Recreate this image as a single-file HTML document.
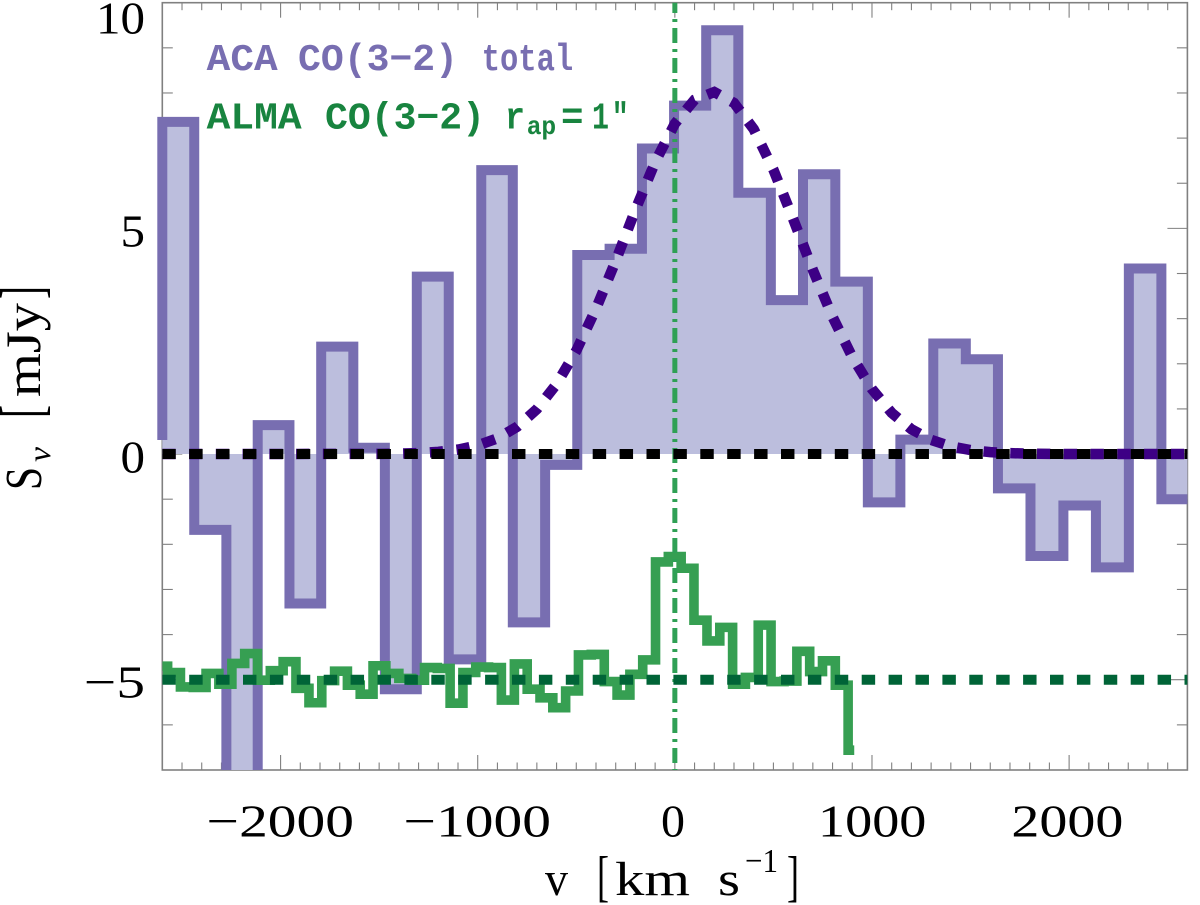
<!DOCTYPE html>
<html lang="en">
<head>
<meta charset="utf-8">
<title>CO(3-2) spectrum</title>
<style>
  html, body { margin: 0; padding: 0; background: #fff; }
  svg { display: block; }
  text { font-family: "Liberation Serif", serif; fill: #000; }
  .leg { font-family: "Liberation Mono", monospace; font-weight: bold; }
</style>
</head>
<body>
<svg id="chart" xmlns="http://www.w3.org/2000/svg" width="1200" height="905" viewBox="0 0 1200 905">
  <defs>
    <clipPath id="plot-clip"><rect x="150" y="2.7" width="1037.4" height="767.3"></rect></clipPath>
    <clipPath id="axes-clip"><rect x="162.3" y="2.7" width="1025.1" height="767.3"></rect></clipPath>
  </defs>
  <g id="axes-layer"></g>
  <g id="marks-layer"></g>

  <g font-size="46">
    <text x="96" y="33.3" textLength="49" lengthAdjust="spacingAndGlyphs">10</text>
    <text x="120.5" y="246.7" textLength="24.5" lengthAdjust="spacingAndGlyphs">5</text>
    <text x="120.5" y="472.7" textLength="24.5" lengthAdjust="spacingAndGlyphs">0</text>
    <text x="84" y="697.7" textLength="61" lengthAdjust="spacingAndGlyphs">−5</text>
  </g>
  <g font-size="46">
    <text x="206.7" y="836.7" textLength="147.3" lengthAdjust="spacingAndGlyphs">−2000</text>
    <text x="403.7" y="836.7" textLength="147.3" lengthAdjust="spacingAndGlyphs">−1000</text>
    <text x="661" y="836.7" textLength="24" lengthAdjust="spacingAndGlyphs">0</text>
    <text x="818" y="836.7" textLength="108.4" lengthAdjust="spacingAndGlyphs">1000</text>
    <text x="1011.4" y="836.7" textLength="112" lengthAdjust="spacingAndGlyphs">2000</text>
  </g>

  <g font-size="48">
    <text x="545" y="895" textLength="23" lengthAdjust="spacingAndGlyphs">v</text>
    <text x="597" y="895" font-size="56" textLength="12" lengthAdjust="spacingAndGlyphs">[</text>
    <text x="615" y="895" textLength="75" lengthAdjust="spacingAndGlyphs">km</text>
    <text x="718" y="895" textLength="22" lengthAdjust="spacingAndGlyphs">s</text>
    <text x="745" y="872" font-size="34" textLength="33" lengthAdjust="spacingAndGlyphs">−1</text>
    <text x="787" y="895" font-size="56" textLength="12" lengthAdjust="spacingAndGlyphs">]</text>
  </g>

  <g font-size="50">
    <text transform="translate(41 490) rotate(-90)" font-size="52" textLength="23" lengthAdjust="spacingAndGlyphs">S</text>
    <text transform="translate(50 462) rotate(-90)" font-size="32" font-style="italic" textLength="15" lengthAdjust="spacingAndGlyphs">ν</text>
    <text transform="translate(42 418) rotate(-90)" font-size="60" textLength="13" lengthAdjust="spacingAndGlyphs">[</text>
    <text transform="translate(40 397) rotate(-90)" textLength="94" lengthAdjust="spacingAndGlyphs">mJy</text>
    <text transform="translate(42 299) rotate(-90)" font-size="60" textLength="13" lengthAdjust="spacingAndGlyphs">]</text>
  </g>

  <g style="fill:#786EB1">
    <text class="leg" style="fill:#786EB1" font-size="38" x="206.7" y="70" textLength="71" lengthAdjust="spacingAndGlyphs">ACA</text>
    <text class="leg" style="fill:#786EB1" font-size="38" x="298" y="70" textLength="160" lengthAdjust="spacingAndGlyphs">CO(3−2)</text>
    <text class="leg" style="fill:#786EB1" font-size="38" x="481.7" y="70" textLength="91.5" lengthAdjust="spacingAndGlyphs">total</text>
  </g>
  <g>
    <text class="leg" style="fill:#18843F" font-size="38" x="206.7" y="128.3" textLength="95" lengthAdjust="spacingAndGlyphs">ALMA</text>
    <text class="leg" style="fill:#18843F" font-size="38" x="325" y="128.3" textLength="160" lengthAdjust="spacingAndGlyphs">CO(3−2)</text>
    <text class="leg" style="fill:#18843F" font-size="38" x="505" y="128.3" textLength="20" lengthAdjust="spacingAndGlyphs">r</text>
    <text class="leg" style="fill:#18843F" font-size="26" x="526.7" y="134" textLength="29.5" lengthAdjust="spacingAndGlyphs">ap</text>
    <text class="leg" style="fill:#18843F" font-size="38" x="561" y="128.3" textLength="22.5" lengthAdjust="spacingAndGlyphs">=</text>
    <text class="leg" style="fill:#18843F" font-size="38" x="592" y="128.3" textLength="17" lengthAdjust="spacingAndGlyphs">1</text>
    <text class="leg" style="fill:#18843F" font-size="38" x="611.7" y="128.3" textLength="17" lengthAdjust="spacingAndGlyphs">″</text>
  </g>
</svg>
<script>
// ---- ACA histogram: bin edges (km/s) and flux per bin (mJy)
const acaEdges = [-2600,-2438,-2275,-2116,-1955,-1794,-1631,-1471,-1309,-1147,-982,-822,-658,-495,-331,-167,-4,159,322,487,650,814,979,1144,1311,1476,1639,1804,1971,2136,2303,2468,2640];
const acaFlux = [7.36,-1.68,-8.5,0.64,-3.31,2.38,0.14,-5.21,3.93,-4.55,6.29,-3.73,-0.24,4.41,4.55,6.77,7.72,9.39,5.79,3.41,6.2,3.82,-1.07,0.32,2.45,2.1,-0.76,-2.26,-1.14,-2.51,4.11,-1.0];
const acaStartFlux = 0.31;

// ---- ALMA histogram: bin edges (km/s) and flux per bin, already offset by -5 mJy as plotted
const almaEdges = [-2600,-2573,-2508,-2443,-2378,-2313,-2247,-2182,-2117,-2052,-1987,-1922,-1856,-1791,-1726,-1661,-1596,-1531,-1466,-1400,-1335,-1270,-1205,-1140,-1075,-1010,-945,-880,-814,-749,-684,-619,-554,-489,-424,-358,-293,-228,-163,-98,-33,32,97,163,228,293,358,423,488,554,619,684,749,814,879,910];
const almaFlux = [-4.70,-4.84,-5.16,-5.17,-4.86,-5.10,-4.64,-4.42,-5.01,-4.80,-4.60,-5.19,-5.51,-5.02,-4.81,-5.12,-5.32,-4.69,-4.86,-4.97,-5.01,-4.73,-4.75,-5.52,-4.84,-4.72,-4.73,-5.45,-4.65,-5.21,-5.40,-5.62,-5.25,-4.45,-4.44,-5.04,-5.34,-4.88,-4.56,-2.39,-2.27,-2.53,-3.68,-4.14,-3.84,-5.10,-4.95,-3.79,-5.04,-5.03,-4.37,-4.82,-4.58,-5.12,-6.56];

// ---- Fitted line profile
const fitVelocity = [-2600,-1500,-1400,-1300,-1200,-1100,-1000,-900,-800,-700,-600,-500,-400,-300,-200,-100,0,100,200,300,400,500,600,700,800,900,1000,1100,1200,1300,1400,1500,1600,1700,1800,1900,2000,2600];
const fitFlux = [0,0.004,0.01,0.023,0.049,0.099,0.191,0.349,0.604,0.994,1.55,2.29,3.22,4.28,5.41,6.47,7.32,7.85,8.02,7.78,7.2,6.3,5.21,4.08,3.04,2.15,1.44,0.912,0.55,0.314,0.17,0.088,0.043,0.02,0.009,0.004,0.001,0];

// ---- Axis configuration
const xDomain = [-2600, 2600];
const yDomain = [-7, 10];
const xMajorTicks = [-2000, -1000, 0, 1000, 2000];
const xMinorTicks = [-2500,-2400,-2300,-2200,-2100,-1900,-1800,-1700,-1600,-1500,-1400,-1300,-1200,-1100,-900,-800,-700,-600,-500,-400,-300,-200,-100,100,200,300,400,500,600,700,800,900,1100,1200,1300,1400,1500,1600,1700,1800,1900,2100,2200,2300,2400,2500];
const yMajorTicks = [-5, 0, 5, 10];
const yMinorTicks = [-6,-4,-3,-2,-1,1,2,3,4,6,7,8,9];
const zeroLevel = 0;
const almaBaseline = -5;
const systemicVelocity = 0;

const LEFT = 162.3, RIGHT = 1187.4, TOP = 2.7, BOTTOM = 770;
function xScale(v) { return LEFT + (v - xDomain[0]) / (xDomain[1] - xDomain[0]) * (RIGHT - LEFT); }
function yScale(s) { return BOTTOM - (s - yDomain[0]) / (yDomain[1] - yDomain[0]) * (BOTTOM - TOP); }

const NS = 'http://www.w3.org/2000/svg';
const axesLayer = document.getElementById('axes-layer');
const marksLayer = document.getElementById('marks-layer');

function make(tag, parent, attrs) {
  const el = document.createElementNS(NS, tag);
  for (const k in attrs) el.setAttribute(k, attrs[k]);
  parent.appendChild(el);
  return el;
}

// frame
const frame = make('rect', axesLayer, { x: LEFT, y: TOP, width: RIGHT - LEFT, height: BOTTOM - TOP, fill: 'none', stroke: '#808080', 'stroke-width': 1.6 });



function xTick(v, len) {
  const x = xScale(v);
  const top = make('line', axesLayer, { x1: x, x2: x, y1: TOP, y2: TOP + len, stroke: '#808080', 'stroke-width': 1.1 });
  
  
  const bottom = make('line', axesLayer, { x1: x, x2: x, y1: BOTTOM, y2: BOTTOM - len, stroke: '#808080', 'stroke-width': 1.1 });
  
  
}
function yTick(s, len) {
  const y = yScale(s);
  const left = make('line', axesLayer, { x1: LEFT, x2: LEFT + len, y1: y, y2: y, stroke: '#808080', 'stroke-width': 1.1 });
  
  
  const right = make('line', axesLayer, { x1: RIGHT, x2: RIGHT - len, y1: y, y2: y, stroke: '#808080', 'stroke-width': 1.1 });
  
  
}
xMajorTicks.forEach(function (v) { xTick(v, 15); });
xMinorTicks.forEach(function (v) { xTick(v, 7.5); });
yMajorTicks.forEach(function (s) { yTick(s, 20); });
yMinorTicks.forEach(function (s) { yTick(s, 10.5); });

function stepPoints(edges, flux, startFlux) {
  const pts = [];
  if (startFlux !== null) pts.push([xScale(edges[0]), yScale(startFlux)]);
  flux.forEach(function (f, i) {
    pts.push([xScale(edges[i]), yScale(f)]);
    pts.push([xScale(edges[i + 1]), yScale(f)]);
  });
  return pts;
}
function toPath(pts) {
  return pts.map(function (p, i) { return (i ? 'L' : 'M') + p[0].toFixed(2) + ' ' + p[1].toFixed(2); }).join(' ');
}

const plotGroup = make('g', marksLayer, { 'clip-path': 'url(#plot-clip)' });



// ACA filled histogram
const acaPts = stepPoints(acaEdges, acaFlux, acaStartFlux);
const acaArea = make('path', plotGroup, {
  d: toPath(acaPts) + ' L' + xScale(acaEdges[acaEdges.length - 1]).toFixed(2) + ' ' + yScale(zeroLevel).toFixed(2) + ' L' + xScale(acaEdges[0]).toFixed(2) + ' ' + yScale(zeroLevel).toFixed(2) + ' Z',
  fill: '#BCBEDD', stroke: 'none'
});


const acaLine = make('path', plotGroup, { d: toPath(acaPts), fill: 'none', stroke: '#786EB1', 'stroke-width': 10, 'stroke-linejoin': 'miter', 'stroke-linecap': 'butt' });



const axesGroup = make('g', marksLayer, { 'clip-path': 'url(#axes-clip)' });



// ALMA histogram
const almaLine = make('path', axesGroup, { d: toPath(stepPoints(almaEdges, almaFlux, null)), fill: 'none', stroke: '#369F52', 'stroke-width': 9.6, 'stroke-linejoin': 'miter' });



// Systemic velocity marker
const sysLine = make('line', axesGroup, { x1: xScale(systemicVelocity), x2: xScale(systemicVelocity), y1: -2, y2: BOTTOM, stroke: '#2FA055', 'stroke-width': 5, 'stroke-dasharray': '15 6 3 6' });



// Fit profile
const fitPts = fitVelocity.map(function (v, i) { return [xScale(v), yScale(fitFlux[i])]; });
const fitLine = make('path', axesGroup, { d: toPath(fitPts), fill: 'none', stroke: '#3D0085', 'stroke-width': 10.5, 'stroke-dasharray': '13.38 13.38', 'stroke-dashoffset': '0' });



// Baselines
const zeroLine = make('line', axesGroup, { x1: LEFT, x2: RIGHT, y1: yScale(zeroLevel), y2: yScale(zeroLevel), stroke: '#000', 'stroke-width': 10, 'stroke-dasharray': '13.45 13.45' });


const almaZero = make('line', axesGroup, { x1: LEFT, x2: RIGHT, y1: yScale(almaBaseline), y2: yScale(almaBaseline), stroke: '#006437', 'stroke-width': 10, 'stroke-dasharray': '13.45 13.45' });


</script>
</body>
</html>
